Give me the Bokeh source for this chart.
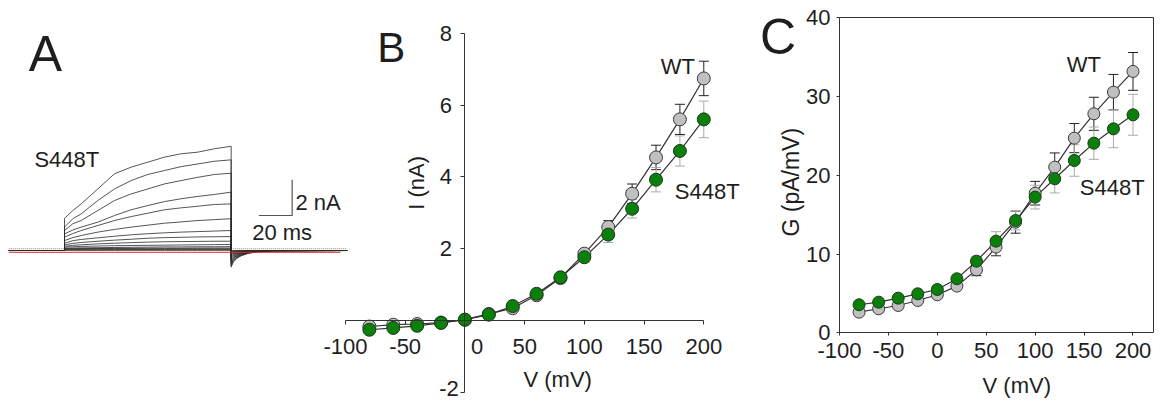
from bokeh.plotting import figure
from bokeh.models import Range1d, LinearAxis, FixedTicker, Label, Grid
from bokeh.embed import file_html
from bokeh.resources import INLINE
import math

FONT = "Liberation Sans"
TXT = "#1e1e1e"
AX = "#333333"

# ---------------- Panel A: current traces (S448T) ----------------
T_STEP = [0, 5, 10, 20, 30, 40, 50, 60, 70, 80, 90, 100]  # ms
TRACES = [
    [1.80, 2.24, 2.61, 3.45, 4.30, 4.67, 4.95, 5.23, 5.42, 5.51, 5.70, 5.84],
    [1.31, 1.78, 2.05, 2.80, 3.45, 3.92, 4.26, 4.48, 4.70, 4.85, 5.00, 5.08],
    [1.12, 1.50, 1.68, 2.24, 2.80, 3.17, 3.45, 3.73, 3.92, 4.10, 4.26, 4.33],
    [0.93, 1.15, 1.31, 1.59, 1.96, 2.28, 2.52, 2.74, 2.90, 3.03, 3.14, 3.27],
    [0.75, 0.95, 1.12, 1.40, 1.68, 1.90, 2.09, 2.28, 2.39, 2.48, 2.58, 2.61],
    [0.56, 0.72, 0.84, 1.03, 1.18, 1.31, 1.42, 1.53, 1.60, 1.68, 1.73, 1.78],
    [0.41, 0.55, 0.62, 0.71, 0.80, 0.88, 0.94, 0.99, 1.03, 1.06, 1.09, 1.12],
    [0.32, 0.40, 0.45, 0.52, 0.58, 0.63, 0.69, 0.72, 0.74, 0.76, 0.77, 0.78],
    [0.24, 0.29, 0.32, 0.37, 0.41, 0.44, 0.47, 0.49, 0.50, 0.51, 0.52, 0.52],
    [0.19, 0.21, 0.23, 0.25, 0.27, 0.28, 0.29, 0.30, 0.31, 0.32, 0.33, 0.34],
    [0.13, 0.14, 0.15, 0.16, 0.17, 0.18, 0.19, 0.20, 0.20, 0.21, 0.21, 0.22],
    [0.10, 0.10, 0.11, 0.11, 0.12, 0.12, 0.13, 0.13, 0.13, 0.14, 0.14, 0.14],
    [0.07, 0.07, 0.07, 0.08, 0.08, 0.08, 0.08, 0.09, 0.09, 0.09, 0.09, 0.09],
    [0.04, 0.04, 0.04, 0.04, 0.05, 0.05, 0.05, 0.05, 0.05, 0.05, 0.05, 0.05],
    [0.01, 0.01, 0.01, 0.01, 0.01, 0.01, 0.01, 0.01, 0.01, 0.01, 0.01, 0.01],
]
TAIL_T = [0, 1, 3, 6, 10, 15, 25, 69.6]          # ms after step end
TAIL_PROFILE = [1.0, 0.75, 0.5, 0.32, 0.18, 0.09, 0.02, 0.0]
TAIL_PEAK = [-0.93, -0.85, -0.77, -0.69, -0.61, -0.53, -0.45, -0.38,
             -0.31, -0.24, -0.18, -0.13, -0.08, -0.04, -0.01]
PRE_T = -33.4
STEP_END = 100

# ---------------- Panel B: I-V ----------------
V = [-80, -60, -40, -20, 0, 20, 40, 60, 80, 100, 120, 140, 160, 180, 200]
I_WT = [-0.17, -0.12, -0.10, -0.06, 0.02, 0.18, 0.34, 0.70, 1.18, 1.86, 2.60, 3.53, 4.54, 5.60, 6.74]
I_WT_ERR = [0.03, 0.03, 0.03, 0.02, 0.02, 0.03, 0.05, 0.06, 0.08, 0.10, 0.18, 0.27, 0.34, 0.42, 0.48]
I_S448T = [-0.26, -0.21, -0.15, -0.07, 0.02, 0.16, 0.40, 0.74, 1.20, 1.76, 2.39, 3.11, 3.92, 4.72, 5.60]
I_S448T_ERR = [0.03, 0.03, 0.03, 0.02, 0.02, 0.03, 0.04, 0.06, 0.08, 0.10, 0.22, 0.26, 0.34, 0.42, 0.51]
B_XTICKS = [-100, -50, 50, 100, 150, 200]
B_YTICKS = [-2, 2, 4, 6, 8]

# ---------------- Panel C: G-V ----------------
G_WT = [2.62, 3.05, 3.47, 4.10, 4.83, 5.93, 8.00, 10.88, 14.05, 17.73, 21.04, 24.72, 27.81, 30.56, 33.19]
G_WT_ERR = [0.2, 0.2, 0.2, 0.3, 0.3, 0.4, 0.75, 1.1, 1.4, 1.5, 1.8, 1.85, 2.1, 2.25, 2.4]
G_S448T = [3.56, 3.89, 4.40, 4.95, 5.50, 6.86, 9.10, 11.64, 14.26, 17.23, 19.56, 21.88, 24.08, 25.90, 27.68]
G_S448T_ERR = [0.2, 0.2, 0.2, 0.3, 0.3, 0.4, 0.6, 1.2, 1.2, 1.5, 1.8, 2.0, 2.05, 2.4, 2.6]
C_XTICKS = [-100, -50, 0, 50, 100, 150, 200]
C_YTICKS = [0, 10, 20, 30, 40]
C_XLIM = (-100, 221)
C_YLIM = (0, 40)

MINUS = {-100: "-100", -50: "-50"}

GRAY_FILL = "#c0c0c0"
GRAY_LINE = "#3a3a3a"
GREEN_FILL = "#0a800a"
GREEN_LINE = "#1b3a1b"
WT_ERR_COL = "#222222"
MUT_ERR_COL = "#aaaaaa"

# One canvas holds the three panels; each panel has its own ranges.
p = figure(frame_width=1164, frame_height=400, min_border=0, title=None,
           x_range=Range1d(-388.87, 585.75), y_range=Range1d(-2.231, 8.911),
           x_axis_location=None, y_axis_location=None,
           toolbar_location=None, output_backend="svg", outline_line_color=None)
for r in p.center:
    if isinstance(r, Grid):
        r.visible = False
p.extra_x_ranges = {"time": Range1d(-38.4, 660.0), "cx": Range1d(-957.6, 232.2)}
p.extra_y_ranges = {"cur": Range1d(-8.403, 14.006), "cy": Range1d(-8.597, 42.197)}


def lbl(x, y, text, size, align="center", angle=0.0, xr="default", yr="default"):
    p.add_layout(Label(x=x, y=y, text=text, text_font=FONT, text_font_size=size,
                       text_color=TXT, text_align=align, text_baseline="middle",
                       angle=angle, x_range_name=xr, y_range_name=yr))


def make_axis(loc, bounds, ticks, tick_out, standoff, xr="default", yr="default",
              labels=True, overrides=None):
    ax = LinearAxis(fixed_location=loc, bounds=bounds, ticker=FixedTicker(ticks=ticks),
                    x_range_name=xr, y_range_name=yr)
    ax.axis_line_color = AX
    ax.axis_line_width = 1
    ax.major_tick_line_color = AX
    ax.major_tick_out = tick_out
    ax.major_tick_in = 0
    ax.minor_tick_line_color = None
    ax.major_label_text_font = FONT
    ax.major_label_text_font_size = "22px" if labels else "0px"
    ax.major_label_text_color = TXT
    ax.major_label_standoff = standoff
    ax.major_label_overrides = overrides if overrides is not None else MINUS
    return ax


def errbars(x, y, err, color, capsize, xr="default", yr="default"):
    lo = [a - e for a, e in zip(y, err)]
    hi = [a + e for a, e in zip(y, err)]
    p.segment(x0=x, y0=lo, x1=x, y1=hi, line_color=color, line_width=1,
              x_range_name=xr, y_range_name=yr)
    p.scatter(x + x, lo + hi, marker="dash", size=capsize, line_color=color, line_width=1,
              x_range_name=xr, y_range_name=yr)


# ======== Panel A ========
xs, ys = [], []
for tr, pk in zip(TRACES, TAIL_PEAK):
    xs.append([PRE_T, 0] + T_STEP + [STEP_END + d for d in TAIL_T])
    ys.append([0, 0] + tr + [pk * f for f in TAIL_PROFILE])
p.line([PRE_T, 169.6], [0.1, 0.1], line_color="#8a8a8a", line_width=1,
       line_dash="1 1", x_range_name="time", y_range_name="cur")
p.multi_line(xs, ys, line_color="#2a2a2a", line_width=0.8,
             x_range_name="time", y_range_name="cur")
p.line([PRE_T, 165.6], [-0.1, -0.1], line_color="#e02828", line_width=1.0,
       x_range_name="time", y_range_name="cur")
SB_T, SB_I = 136.6, 1.96   # scale bar corner: 20 ms / 2 nA
p.line([SB_T - 20, SB_T, SB_T], [SB_I, SB_I, SB_I + 2], line_color="#555555",
       line_width=1.2, x_range_name="time", y_range_name="cur")
lbl(-11.4, 11.0, "A", "50px", xr="time", yr="cur")
lbl(1.4, 5.11, "S448T", "22px", xr="time", yr="cur")
lbl(138.6, 2.71, "2 nA", "22px", align="left", xr="time", yr="cur")
lbl(130.6, 1.0, "20 ms", "22px", xr="time", yr="cur")

# ======== Panel B (axes crossing at the origin) ========
p.add_layout(make_axis(0, (-100, 200), B_XTICKS, 4, 15), "below")
p.add_layout(make_axis(0, (-2, 8), B_YTICKS, 4, 9, overrides={-2: ""}), "left")

errbars(V, I_WT, I_WT_ERR, WT_ERR_COL, 10)
errbars(V, I_S448T, I_S448T_ERR, MUT_ERR_COL, 10)
p.line(V, I_WT, line_color="#333333", line_width=1.2)
p.line(V, I_S448T, line_color="#333333", line_width=1.2)
p.scatter(V, I_WT, size=13, fill_color=GRAY_FILL, line_color=GRAY_LINE, line_width=1)
p.scatter(V, I_S448T, size=13, fill_color=GREEN_FILL, line_color=GREEN_LINE, line_width=1)

lbl(10.27, -0.72, "0", "22px")
lbl(-5.14, -1.897, "-2", "22px", align="right")
lbl(-61.65, 7.61, "B", "42px")
lbl(178.2, 7.08, "WT", "22px")
lbl(202.85, 3.58, "S448T", "22px")
lbl(77.7, -1.65, "V (mV)", "22px")
lbl(-40.3, 3.83, "I (nA)", "22px", angle=math.pi / 2)

# ======== Panel C (boxed) ========
p.add_layout(make_axis(C_YLIM[0], C_XLIM, C_XTICKS, 3, 7, xr="cx", yr="cy"), "below")
p.add_layout(make_axis(C_XLIM[0], C_YLIM, C_YTICKS, 3, 6, xr="cx", yr="cy"), "left")
p.add_layout(make_axis(C_YLIM[1], C_XLIM, [], 0, 0, xr="cx", yr="cy", labels=False), "above")
p.add_layout(make_axis(C_XLIM[1], C_YLIM, [], 0, 0, xr="cx", yr="cy", labels=False), "right")

errbars(V, G_WT, G_WT_ERR, WT_ERR_COL, 10, xr="cx", yr="cy")
errbars(V, G_S448T, G_S448T_ERR, MUT_ERR_COL, 10, xr="cx", yr="cy")
p.line(V, G_WT, line_color="#333333", line_width=1.2, x_range_name="cx", y_range_name="cy")
p.line(V, G_S448T, line_color="#333333", line_width=1.2, x_range_name="cx", y_range_name="cy")
p.scatter(V, G_WT, size=12, fill_color=GRAY_FILL, line_color=GRAY_LINE, line_width=1,
          x_range_name="cx", y_range_name="cy")
p.scatter(V, G_S448T, size=12, fill_color=GREEN_FILL, line_color=GREEN_LINE, line_width=1,
          x_range_name="cx", y_range_name="cy")

lbl(-162.9, 37.54, "C", "50px", xr="cx", yr="cy")
lbl(149.7, 34.04, "WT", "22px", xr="cx", yr="cy")
lbl(178.7, 18.49, "S448T", "22px", xr="cx", yr="cy")
lbl(81.2, -6.69, "V (mV)", "22px", xr="cx", yr="cy")
lbl(-149.3, 19.12, "G (pA/mV)", "23px", angle=math.pi / 2, xr="cx", yr="cy")

open("out.html", "w").write(file_html(p, INLINE))
